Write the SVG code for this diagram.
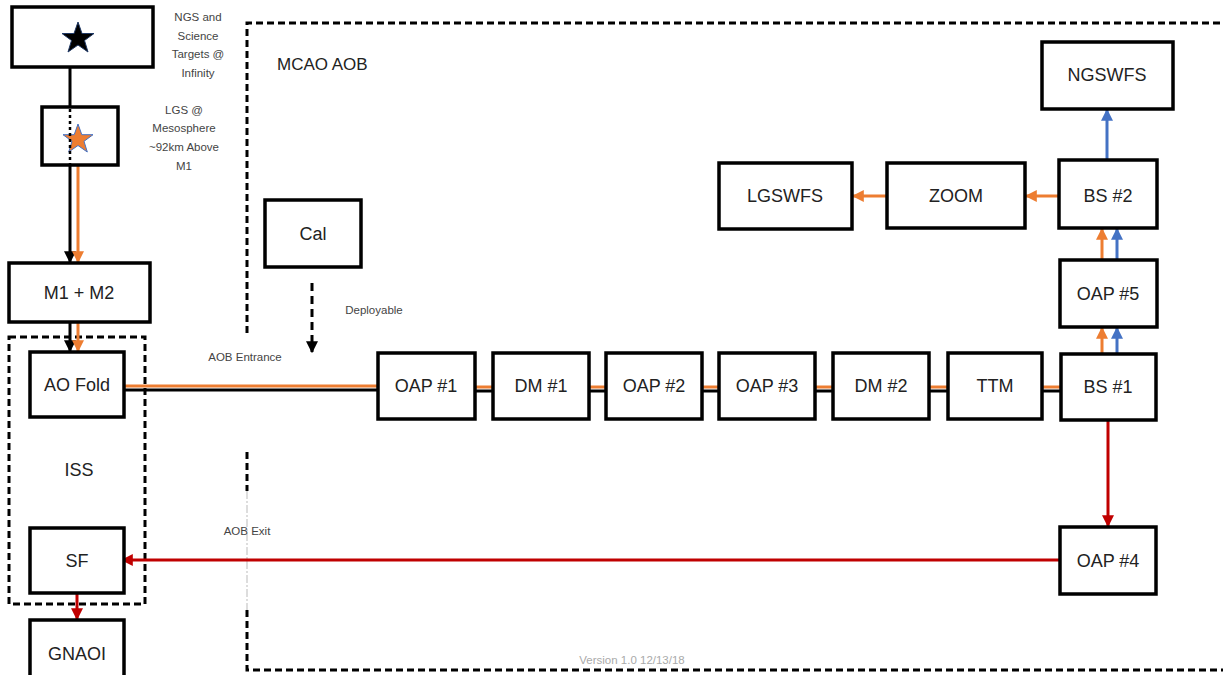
<svg xmlns="http://www.w3.org/2000/svg" width="1223" height="675" viewBox="0 0 1223 675">
<style>
.box{fill:#fff;stroke:#000;stroke-width:3.5}
.lbl{font-family:"Liberation Sans",Arial,sans-serif;font-size:18px;fill:#222;text-anchor:middle;dominant-baseline:central}
.sm{font-family:"Liberation Sans",Arial,sans-serif;font-size:11.5px;fill:#444;text-anchor:middle}
.dash{fill:none;stroke:#000;stroke-width:3;stroke-dasharray:7 4}
.blk{stroke:#000;stroke-width:3;fill:none}
.org{stroke:#ed7d31;stroke-width:3;fill:none}
.blu{stroke:#4472c4;stroke-width:3;fill:none}
.red{stroke:#c00000;stroke-width:3;fill:none}
</style>
<defs>
<marker id="ak" viewBox="0 0 10 10" refX="9" refY="5" markerWidth="4" markerHeight="4" orient="auto" markerUnits="strokeWidth"><path d="M0,0L10,5L0,10z" fill="#000"/></marker>
<marker id="ao" viewBox="0 0 10 10" refX="9" refY="5" markerWidth="4" markerHeight="4" orient="auto" markerUnits="strokeWidth"><path d="M0,0L10,5L0,10z" fill="#ed7d31"/></marker>
<marker id="ab" viewBox="0 0 10 10" refX="9" refY="5" markerWidth="4" markerHeight="4" orient="auto" markerUnits="strokeWidth"><path d="M0,0L10,5L0,10z" fill="#4472c4"/></marker>
<marker id="ar" viewBox="0 0 10 10" refX="9" refY="5" markerWidth="4" markerHeight="4" orient="auto" markerUnits="strokeWidth"><path d="M0,0L10,5L0,10z" fill="#c00000"/></marker>
</defs>

<g id="mcao-aob">
<path class="dash" d="M247,333 V23 H1223"/>
<path class="dash" d="M247,452 V491"/>
<path d="M247,491 V610" stroke="#bbb" stroke-width="1" stroke-dasharray="8 2 2 2" fill="none"/>
<path class="dash" d="M247,610 V670 H1223"/>
<text x="277" y="70" font-family="Liberation Sans,Arial,sans-serif" font-size="17" fill="#222">MCAO AOB</text>
</g>

<g id="iss">
<rect class="dash" x="9" y="337" width="136" height="267"/>
<text class="lbl" x="79" y="470">ISS</text>
</g>

<g id="connectors">
<line class="blk" x1="70" y1="67" x2="70" y2="107"/>
<line x1="70" y1="109" x2="70" y2="165" stroke="#000" stroke-width="2.5" stroke-dasharray="3 3"/>
<line class="blk" x1="70" y1="165" x2="70" y2="262" marker-end="url(#ak)"/>
<line class="org" x1="78" y1="166" x2="78" y2="262" marker-end="url(#ao)"/>
<line class="blk" x1="70" y1="322" x2="70" y2="351" marker-end="url(#ak)"/>
<line class="org" x1="78" y1="322" x2="78" y2="351" marker-end="url(#ao)"/>
<line class="blk" x1="124" y1="390" x2="378" y2="390"/>
<line class="org" x1="124" y1="386" x2="378" y2="386"/>
<g>
<line class="blk" x1="475" y1="391" x2="493" y2="391"/><line class="org" x1="475" y1="387" x2="493" y2="387"/>
<line class="blk" x1="589" y1="391" x2="606" y2="391"/><line class="org" x1="589" y1="387" x2="606" y2="387"/>
<line class="blk" x1="702" y1="391" x2="719" y2="391"/><line class="org" x1="702" y1="387" x2="719" y2="387"/>
<line class="blk" x1="815" y1="391" x2="833" y2="391"/><line class="org" x1="815" y1="387" x2="833" y2="387"/>
<line class="blk" x1="929" y1="391" x2="948" y2="391"/><line class="org" x1="929" y1="387" x2="948" y2="387"/>
<line class="blk" x1="1042" y1="391" x2="1061" y2="391"/><line class="org" x1="1042" y1="387" x2="1061" y2="387"/>
</g>
<line class="org" x1="1102" y1="353" x2="1102" y2="328" marker-end="url(#ao)"/>
<line class="blu" x1="1117" y1="353" x2="1117" y2="328" marker-end="url(#ab)"/>
<line class="org" x1="1102" y1="260" x2="1102" y2="229" marker-end="url(#ao)"/>
<line class="blu" x1="1117" y1="260" x2="1117" y2="229" marker-end="url(#ab)"/>
<line class="blu" x1="1107" y1="160" x2="1107" y2="110" marker-end="url(#ab)"/>
<line class="org" x1="1059" y1="196" x2="1026" y2="196" marker-end="url(#ao)"/>
<line class="org" x1="887" y1="196" x2="853" y2="196" marker-end="url(#ao)"/>
<line class="red" x1="1108" y1="421" x2="1108" y2="526" marker-end="url(#ar)"/>
<line class="red" x1="1060" y1="560" x2="122" y2="560" marker-end="url(#ar)"/>
<line class="red" x1="77" y1="594" x2="77" y2="619" marker-end="url(#ar)"/>
<line x1="312" y1="283" x2="312" y2="352" stroke="#000" stroke-width="3" stroke-dasharray="8 5" marker-end="url(#ak)"/>
</g>

<g id="ngs">
<rect class="box" x="12" y="7" width="141" height="60"/>
<polygon points="78,22 82,33.5 94,33.5 84.5,40.5 88,52 78,45 68,52 71.5,40.5 62,33.5 74,33.5" fill="#000" stroke="#1f3864" stroke-width="1"/>
<text class="sm" x="198" y="21">NGS and</text>
<text class="sm" x="198" y="40">Science</text>
<text class="sm" x="198" y="58">Targets @</text>
<text class="sm" x="198" y="77">Infinity</text>
</g>

<g id="lgs">
<rect class="box" x="42" y="107" width="76" height="58"/>
<polygon points="78,124 81.8,134.7 93,134.7 84,141.3 87.3,152 78,145.5 68.7,152 72,141.3 63,134.7 74.2,134.7" fill="#ed7d31" stroke="#4472c4" stroke-width="1"/>
<line x1="70" y1="109" x2="70" y2="165" stroke="#000" stroke-width="2.5" stroke-dasharray="3 3"/>
<text class="sm" x="184" y="114">LGS @</text>
<text class="sm" x="184" y="132">Mesosphere</text>
<text class="sm" x="184" y="151">~92km Above</text>
<text class="sm" x="184" y="170">M1</text>
</g>

<g id="m1m2"><rect class="box" x="9" y="263" width="141" height="59"/><text class="lbl" x="79" y="293">M1 + M2</text></g>
<g id="aofold"><rect class="box" x="30" y="352" width="94" height="65"/><text class="lbl" x="77" y="385">AO Fold</text></g>
<g id="sf"><rect class="box" x="30" y="528" width="94" height="65"/><text class="lbl" x="77" y="561">SF</text></g>
<g id="gnaoi"><rect class="box" x="30" y="620" width="94" height="70"/><text class="lbl" x="77" y="654">GNAOI</text></g>

<g id="cal"><rect class="box" x="265" y="200" width="96" height="67"/><text class="lbl" x="313" y="234">Cal</text></g>
<text class="sm" x="374" y="314" font-size="11">Deployable</text>
<text class="sm" x="245" y="361" font-size="11">AOB Entrance</text>
<text class="sm" x="247" y="535" font-size="11">AOB Exit</text>

<g id="oap1"><rect class="box" x="378" y="353" width="97" height="66"/><text class="lbl" x="426" y="386">OAP #1</text></g>
<g id="dm1"><rect class="box" x="493" y="353" width="96" height="66"/><text class="lbl" x="541" y="386">DM #1</text></g>
<g id="oap2"><rect class="box" x="606" y="353" width="96" height="66"/><text class="lbl" x="654" y="386">OAP #2</text></g>
<g id="oap3"><rect class="box" x="719" y="353" width="96" height="66"/><text class="lbl" x="767" y="386">OAP #3</text></g>
<g id="dm2"><rect class="box" x="833" y="353" width="96" height="66"/><text class="lbl" x="881" y="386">DM #2</text></g>
<g id="ttm"><rect class="box" x="948" y="353" width="94" height="66"/><text class="lbl" x="995" y="386">TTM</text></g>
<g id="bs1"><rect class="box" x="1061" y="354" width="95" height="66"/><text class="lbl" x="1108" y="387">BS #1</text></g>
<g id="oap5"><rect class="box" x="1060" y="260" width="97" height="67"/><text class="lbl" x="1108" y="294">OAP #5</text></g>
<g id="bs2"><rect class="box" x="1059" y="160" width="98" height="68"/><text class="lbl" x="1108" y="196">BS #2</text></g>
<g id="ngswfs"><rect class="box" x="1042" y="42" width="131" height="67"/><text class="lbl" x="1107" y="75">NGSWFS</text></g>
<g id="zoom"><rect class="box" x="887" y="163" width="138" height="65"/><text class="lbl" x="956" y="196">ZOOM</text></g>
<g id="lgswfs"><rect class="box" x="719" y="163" width="133" height="66"/><text class="lbl" x="785" y="196">LGSWFS</text></g>
<g id="oap4"><rect class="box" x="1060" y="527" width="96" height="67"/><text class="lbl" x="1108" y="561">OAP #4</text></g>

<text x="632" y="664" font-family="Liberation Sans,Arial,sans-serif" font-size="11.5" fill="#aaa" text-anchor="middle">Version 1.0 12/13/18</text>
</svg>
